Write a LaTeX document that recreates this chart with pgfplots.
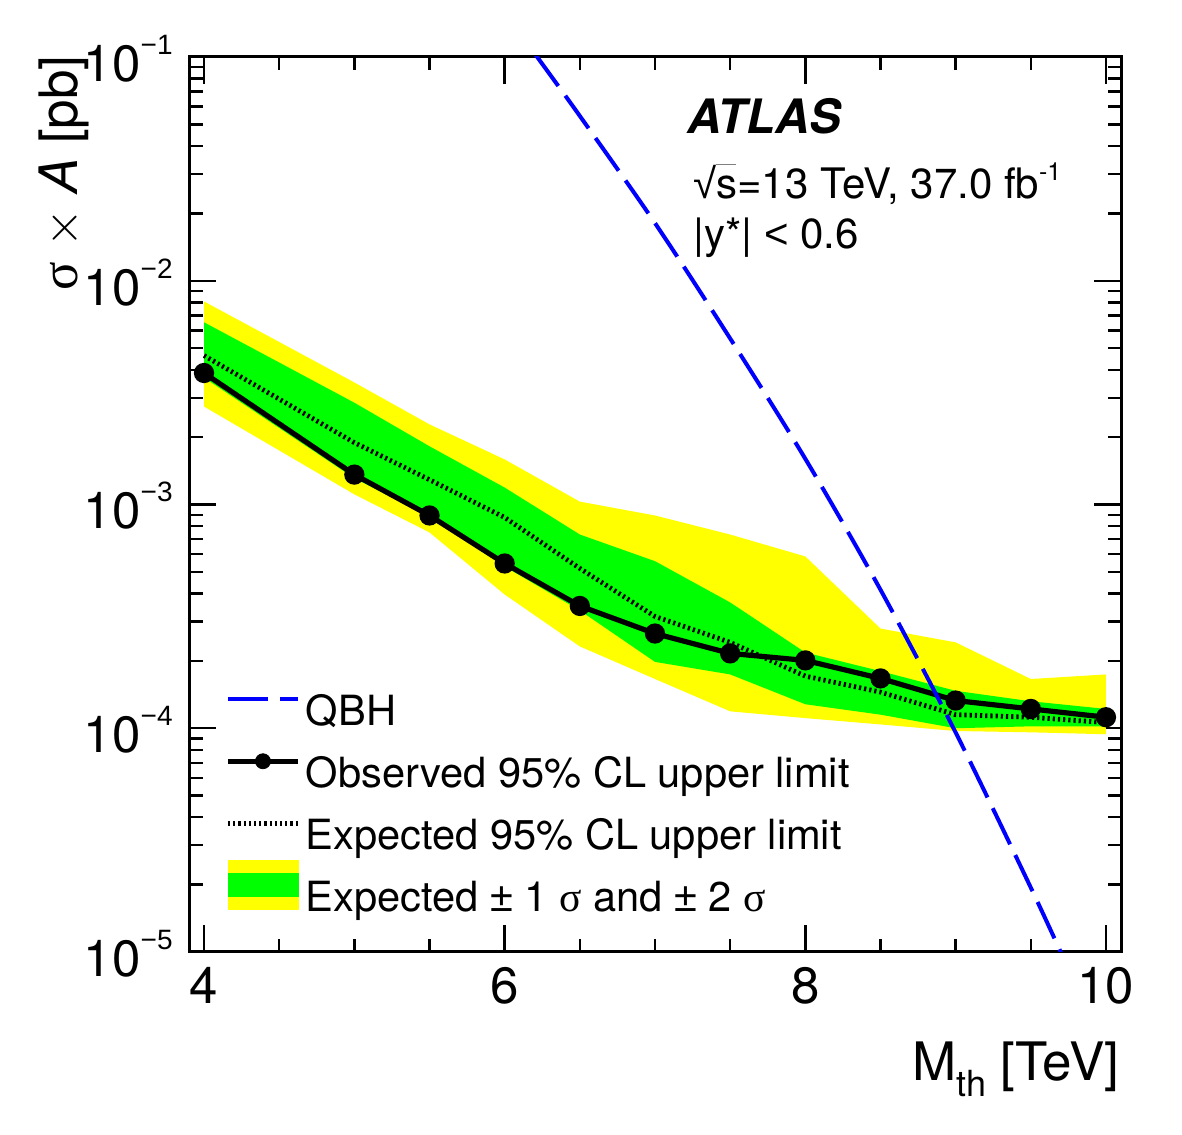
\documentclass[border=0pt]{standalone}
\usepackage{fontspec}
\setmainfont{TeX Gyre Heros}
\newfontfamily\symfont{Liberation Serif}
\newfontfamily\libsans{Liberation Sans}
\usepackage{pgfplots}
\pgfplotsset{compat=1.18}
\usepackage{pgfplotstable}
\usepgfplotslibrary{fillbetween}

\definecolor{bandyellow}{RGB}{255,255,0}
\definecolor{bandgreen}{RGB}{0,255,0}
\definecolor{qbhblue}{RGB}{0,0,255}

% Limits on sigma x A [pb] versus threshold mass [TeV]
% obs: observed, exp: expected, m2/m1/p1/p2: -2/-1/+1/+2 sigma
\pgfplotstableread{
x     obs      exp      m2       m1       p1       p2
4.0   3.87e-3  4.63e-3  2.74e-3  3.69e-3  6.52e-3  8.08e-3
5.0   1.36e-3  1.89e-3  1.11e-3  1.31e-3  2.85e-3  3.51e-3
5.5   8.93e-4  1.29e-3  7.50e-4  8.83e-4  1.82e-3  2.28e-3
6.0   5.45e-4  8.75e-4  3.96e-4  5.28e-4  1.19e-3  1.59e-3
6.5   3.52e-4  5.18e-4  2.32e-4  3.36e-4  7.34e-4  1.03e-3
7.0   2.65e-4  3.16e-4  1.66e-4  1.98e-4  5.58e-4  8.93e-4
7.5   2.16e-4  2.42e-4  1.19e-4  1.74e-4  3.65e-4  7.34e-4
8.0   2.01e-4  1.71e-4  1.11e-4  1.28e-4  2.18e-4  5.86e-4
8.5   1.67e-4  1.45e-4  1.04e-4  1.15e-4  1.80e-4  2.79e-4
9.0   1.33e-4  1.15e-4  9.72e-5  1.00e-4  1.47e-4  2.42e-4
9.5   1.22e-4  1.12e-4  9.59e-5  1.02e-4  1.32e-4  1.66e-4
10.0  1.12e-4  1.06e-4  9.40e-5  1.02e-4  1.22e-4  1.74e-4
}\limits

% QBH signal cross section
\pgfplotstableread{
x     y
6.2   1.035e-1
6.5   5.45e-2
7.0   1.81e-2
7.5   5.52e-3
8.0   1.60e-3
8.5   4.16e-4
9.0   9.57e-5
9.5   1.94e-5
9.75  8.4e-6
}\qbh

\newcommand{\decade}[1]{10\raisebox{13.5pt}{\fontsize{14}{14}\selectfont\libsans −#1}}

\begin{document}
\begin{tikzpicture}
% page frame
\path (-94.5pt,-91pt) rectangle (496.5pt,476pt);
\begin{axis}[
  at={(0pt,0pt)}, anchor=south west,
  scale only axis, width=466pt, height=447.5pt,
  xmin=3.9, xmax=10.1,
  ymode=log, ymin=1e-5, ymax=1e-1,
  xtick={4,6,8,10}, xticklabels={4,6,8,10},
  minor x tick num=3,
  ytick={1e-5,1e-4,1e-3,1e-2,1e-1},
  yticklabels={\decade{5},\decade{4},\decade{3},\decade{2},\decade{1}},
  minor ytick={2e-5,3e-5,4e-5,5e-5,6e-5,7e-5,8e-5,9e-5,
               2e-4,3e-4,4e-4,5e-4,6e-4,7e-4,8e-4,9e-4,
               2e-3,3e-3,4e-3,5e-3,6e-3,7e-3,8e-3,9e-3,
               2e-2,3e-2,4e-2,5e-2,6e-2,7e-2,8e-2,9e-2},
  tick align=inside, tick pos=both,
  major tick length=13.5pt, minor tick length=6.75pt,
  axis line style={line width=1.5pt},
  every tick/.style={black, line width=1.2pt},
  tick label style={font=\fontsize{25.5}{25.5}\selectfont},
  xticklabel style={anchor=north, inner sep=0pt, yshift=-7.5pt},
  yticklabel style={anchor=east, inner sep=0pt, xshift=-8pt, yshift=-0.75pt},
  legend cell align=left,
  legend style={at={(0.0418,0.288)}, anchor=north west, draw=none, fill=none,
    inner sep=0pt, outer sep=0pt, row sep=11pt, column sep=4pt,
    font=\fontsize{20.8}{20.8}\selectfont,
    nodes={inner sep=0pt, text height=15.5pt, text depth=4.5pt}},
]
% legend entries
\addlegendimage{legend image code/.code={
  \path[draw=none] (0pt,0pt) -- (35pt,0pt);
  \draw[overlay, qbhblue, line width=2pt, dash pattern=on 20pt off 6pt] (0pt,7.5pt) -- (35pt,7.5pt);}}
\addlegendentry{QBH}
\addlegendimage{legend image code/.code={
  \path[draw=none] (0pt,0pt) -- (35pt,0pt);
  \draw[overlay, black, line width=2.6pt] (0pt,7.5pt) -- (35pt,7.5pt);
  \fill[overlay, black] (17.5pt,7.5pt) circle (3.75pt);}}
\addlegendentry{Observed 95\% CL upper limit}
\addlegendimage{legend image code/.code={
  \path[draw=none] (0pt,0pt) -- (35pt,0pt);
  \draw[overlay, black, line width=2.4pt, dash pattern=on 1.1pt off 1.5pt] (0pt,7.5pt) -- (35pt,7.5pt);}}
\addlegendentry{Expected 95\% CL upper limit}
\addlegendimage{legend image code/.code={
  \path[draw=none] (0pt,0pt) -- (35pt,0pt);
  \fill[overlay, bandyellow] (0pt,-4.5pt) rectangle (35pt,20pt);
  \fill[overlay, bandgreen] (0pt,2pt) rectangle (35pt,13.5pt);}}
\addlegendentry{Expected {\libsans ±} 1 {\symfont σ} and {\libsans ±} 2 {\symfont σ}}

% +-2 sigma and +-1 sigma bands
\addplot[draw=none, name path=p2, forget plot] table[x=x, y=p2] {\limits};
\addplot[draw=none, name path=m2, forget plot] table[x=x, y=m2] {\limits};
\addplot[bandyellow, forget plot] fill between[of=p2 and m2];
\addplot[draw=none, name path=p1, forget plot] table[x=x, y=p1] {\limits};
\addplot[draw=none, name path=m1, forget plot] table[x=x, y=m1] {\limits};
\addplot[bandgreen, forget plot] fill between[of=p1 and m1];

% expected and observed limits
\addplot[black, line width=2.4pt, dash pattern=on 1.1pt off 1.5pt, forget plot]
  table[x=x, y=exp] {\limits};
\addplot[black, line width=2.6pt, mark=*, mark size=3.75pt, forget plot]
  table[x=x, y=obs] {\limits};

% QBH prediction
\addplot[qbhblue, line width=2pt, dash pattern=on 20pt off 6pt, smooth, forget plot]
  table[x=x, y=y] {\qbh};
\end{axis}

% labels and annotations
\node[rotate=90, anchor=base east, inner sep=0pt, font=\fontsize{26.5}{26.5}\selectfont]
  at (-55.5pt,448.5pt) {{\symfont σ} $\times$ \textit{A} [pb]};
\node[anchor=base east, inner sep=0pt, font=\fontsize{26.5}{26.5}\selectfont]
  at (465.5pt,-64pt) {M\raisebox{-8pt}{\fontsize{18}{18}\selectfont th} [TeV]};
\node[anchor=base west, inner sep=0pt, font=\fontsize{23.7}{23.7}\selectfont\bfseries\itshape]
  at (249pt,409.35pt) {ATLAS};
\node[anchor=base west, inner sep=0pt, font=\fontsize{21}{21}\selectfont]
  at (252pt,376.85pt) {{\libsans √}\rlap{\raisebox{16.5pt}{\color{gray}\rule{10pt}{0.5pt}}}s=13 TeV, 37.0 fb\raisebox{9pt}{\fontsize{12.5}{12.5}\selectfont -1}};
\node[anchor=base west, inner sep=0pt, font=\fontsize{21}{21}\selectfont]
  at (252pt,351.5pt) {|y*| {\libsans <} 0.6};
\end{tikzpicture}
\end{document}
